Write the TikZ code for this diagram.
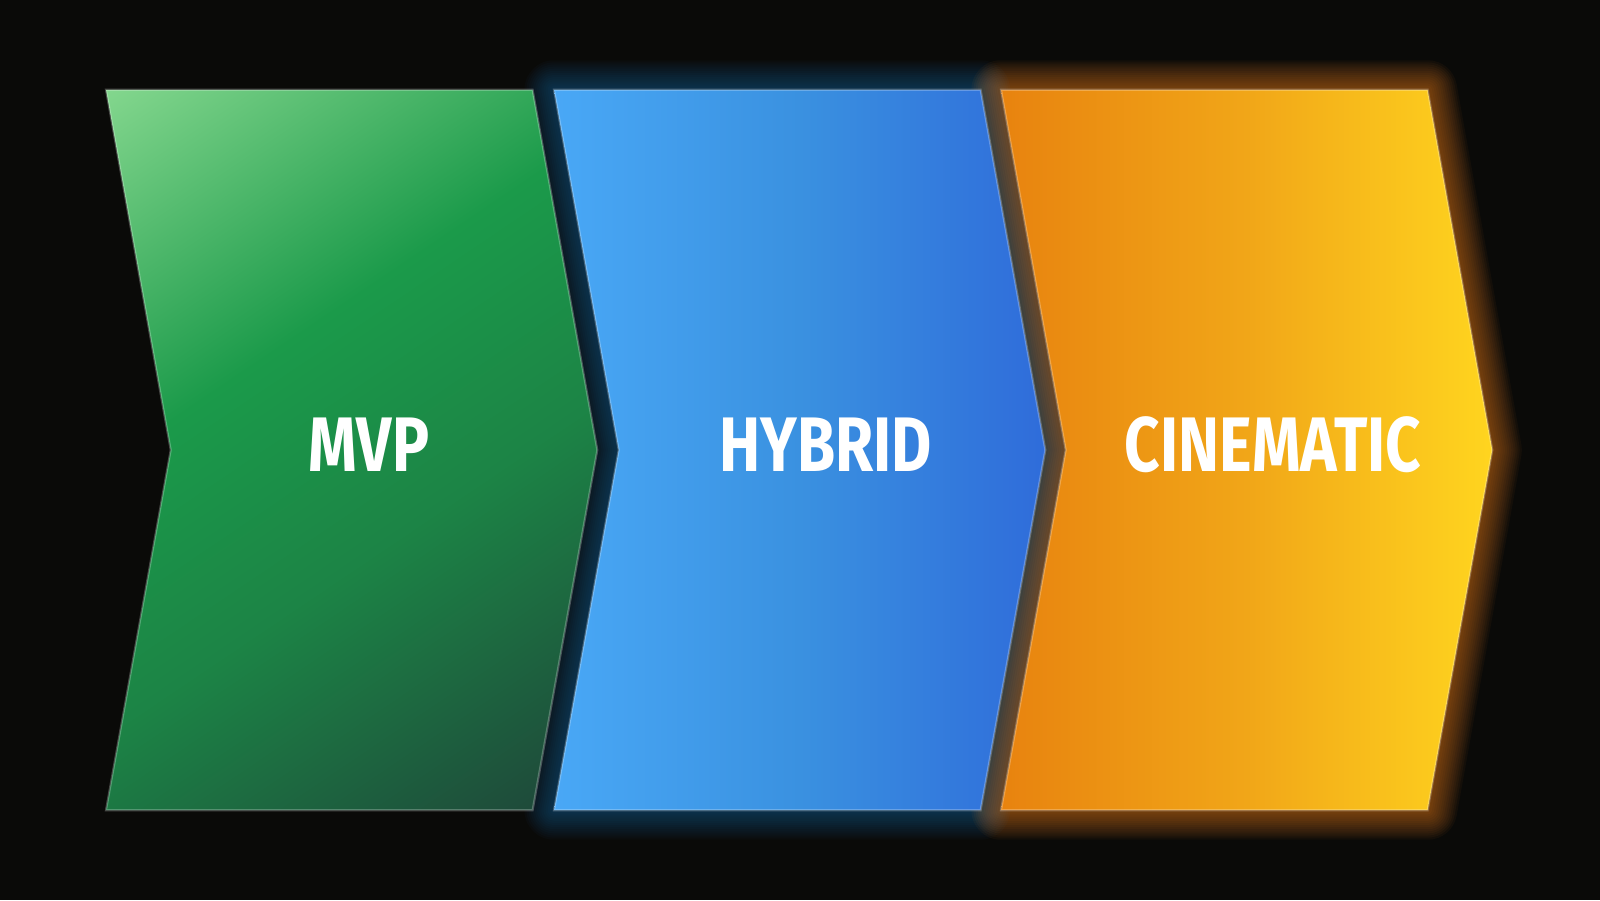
\documentclass[tikz,border=0pt]{standalone}
\usepackage{fontspec}
\newfontfamily\labelfont[FakeStretch=0.8]{Fira Sans}
\definecolor{bgblack}{HTML}{0A0A08}
\definecolor{mvplight}{HTML}{84D78E}
\definecolor{mvpmid}{HTML}{1B9A4A}
\definecolor{mvpdark}{HTML}{1E4A3A}
\definecolor{hyblight}{HTML}{49A8F6}
\definecolor{hybmid}{HTML}{3A91E0}
\definecolor{hybdark}{HTML}{2F6CDA}
\definecolor{cinlight}{HTML}{E8830F}
\definecolor{cinmid}{HTML}{F1A618}
\definecolor{cindark}{HTML}{FFD51F}
\definecolor{hybglow}{HTML}{2A86D0}
\definecolor{cinglow}{HTML}{E07A20}
\pgfdeclareverticalshading{mvpshade}{100bp}{color(0bp)=(mvpdark); color(18bp)=(mvpdark); color(42bp)=(mvpmid!72!mvpdark); color(60bp)=(mvpmid); color(85bp)=(mvplight); color(100bp)=(mvplight)}
\def\chevron[#1](#2){\path[#1] (#2,\ybot) -- ++(\chw,0) -- ++(\tip,\hh) -- ++(-\tip,\hh) -- ++(-\chw,0) -- ++(\tip,-\hh) -- cycle;}

\begin{document}
\begin{tikzpicture}
				%%%%% CHEVRONS %%%%%
				\def\ybot{0.898}
				\def\hh{3.602}
				\def\chw{4.266}
				\def\tip{0.647}
				\def\xone{1.06}
				\def\xtwo{5.54}
				\def\xthree{10.01}
				\def\ylab{4.55}

				\fill[bgblack] (0,0) rectangle (16,9);
				\useasboundingbox (0,0) rectangle (16,9);

				% glow behind the second and third one
				\foreach \g in {1,...,14}{
					\chevron[draw=hybglow, line width=\g*1.2pt, draw opacity=0.03, line join=round](\xtwo)
					\chevron[draw=cinglow, line width=\g*1.2pt, draw opacity=0.05, line join=round](\xthree)
				}

				\chevron[shading=mvpshade, shading angle=34, draw=white, draw opacity=0.25, line width=0.6pt](\xone)
				\chevron[left color=hyblight, right color=hybdark, middle color=hybmid, draw=white, draw opacity=0.25, line width=0.6pt](\xtwo)
				\chevron[left color=cinlight, right color=cindark, middle color=cinmid, draw=white, draw opacity=0.25, line width=0.6pt](\xthree)

				\node[text=white, font=\labelfont\bfseries\fontsize{22}{26}\selectfont] (mvp) at (3.69,\ylab) {MVP};
				\node[text=white, font=\labelfont\bfseries\fontsize{22}{26}\selectfont] (hybrid) at (8.255,\ylab) {HYBRID};
				\node[text=white, font=\labelfont\bfseries\fontsize{22}{26}\selectfont] (cinematic) at (12.73,\ylab) {CINEMATIC};
				%%%%% CHEVRONS %%%%%
			\end{tikzpicture}
\end{document}
